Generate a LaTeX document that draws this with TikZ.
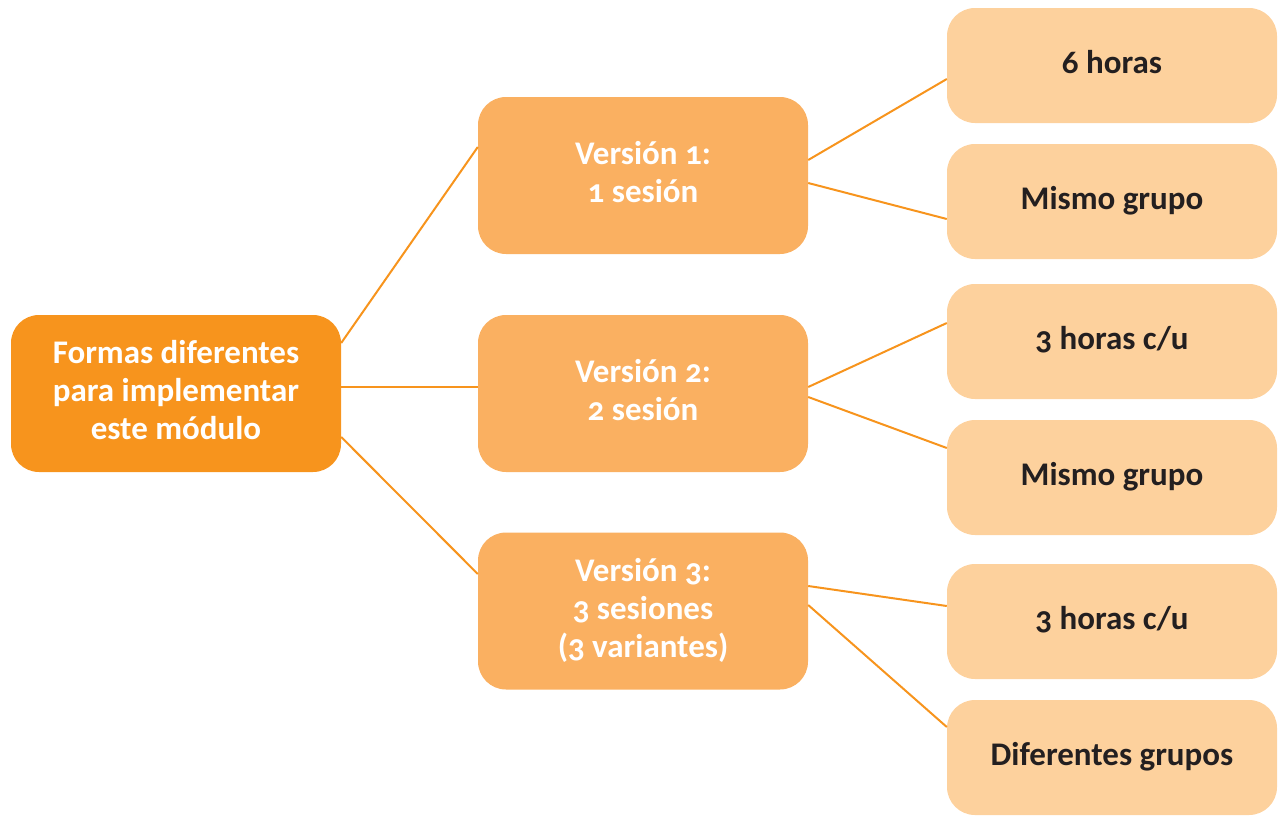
\documentclass[tikz,border=0pt]{standalone}
\usepackage{fontspec}
\setmainfont{Carlito}[Numbers=OldStyle]
\definecolor{rootc}{HTML}{F7941D}
\definecolor{midc}{HTML}{FAB061}
\definecolor{leafc}{HTML}{FDD19D}
\definecolor{linec}{HTML}{F7941D}
\definecolor{textdark}{HTML}{231F20}
\tikzset{
  box/.style={rectangle, rounded corners=28pt, minimum width=330pt, inner sep=0pt, align=center,
    font=\fontsize{33}{38}\selectfont\bfseries,
    execute at end node={\rule[-7pt]{0pt}{7pt}}},
  rootbox/.style={box, fill=rootc, minimum height=157pt, text=white},
  midbox/.style={box, fill=midc, minimum height=157pt, text=white},
  leafbox/.style={box, fill=leafc, minimum height=115pt, text=textdark},
  conn/.style={draw=linec, line width=2pt}
}
\begin{document}
\begin{tikzpicture}[x=1pt,y=-1pt]
\useasboundingbox (0,0) rectangle (1279,817);
\node[rootbox] (root) at (176,393.5) {Formas diferentes\\para implementar\\este módulo};
\node[midbox] (v1) at (643,175.5) {Versión 1:\\1 sesión};
\node[midbox] (v2) at (643,393.5) {Versión 2:\\2 sesión};
\node[midbox] (v3) at (643,611) {Versión 3:\\3 sesiones\\(3 variantes)};
\node[leafbox] (l1) at (1112,65.5) {6 horas};
\node[leafbox] (l2) at (1112,201.5) {Mismo grupo};
\node[leafbox] (l3) at (1112,341.5) {3 horas c/u};
\node[leafbox] (l4) at (1112,477.5) {Mismo grupo};
\node[leafbox] (l5) at (1112,621.5) {3 horas c/u};
\node[leafbox] (l6) at (1112,757.5) {Diferentes grupos};
\draw[conn] ([yshift=50.5pt]root.east) -- ([yshift=28.5pt]v1.west);
\draw[conn] ([yshift=6.5pt]root.east) -- ([yshift=6.5pt]v2.west);
\draw[conn] ([yshift=-43.5pt]root.east) -- ([yshift=37pt]v3.west);
\draw[conn] ([yshift=15.5pt]v1.east) -- ([yshift=-13.5pt]l1.west);
\draw[conn] ([yshift=-7.5pt]v1.east) -- ([yshift=-17.5pt]l2.west);
\draw[conn] ([yshift=6.5pt]v2.east) -- ([yshift=18.5pt]l3.west);
\draw[conn] ([yshift=-3.5pt]v2.east) -- ([yshift=29.5pt]l4.west);
\draw[conn] ([yshift=25pt]v3.east) -- ([yshift=15.5pt]l5.west);
\draw[conn] ([yshift=6pt]v3.east) -- ([yshift=30.5pt]l6.west);
\end{tikzpicture}
\end{document}
